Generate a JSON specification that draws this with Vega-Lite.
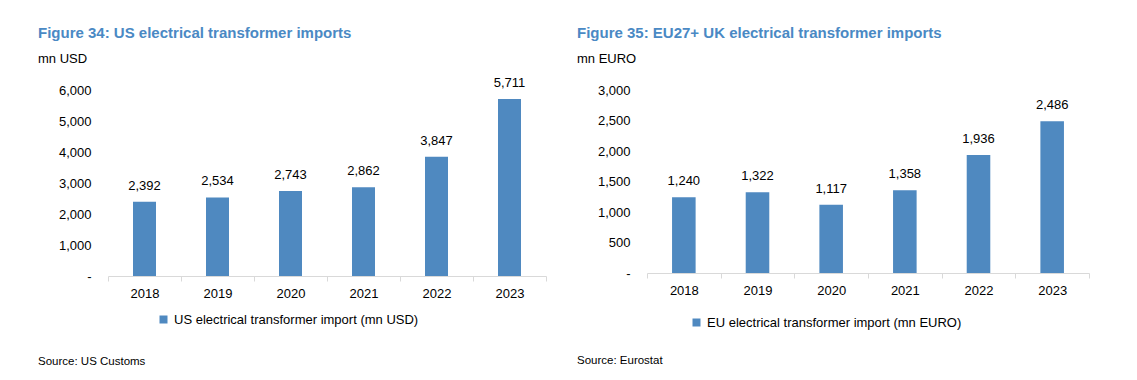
{
  "$schema": "https://vega.github.io/schema/vega-lite/v6.json",
  "padding": {"left": 38, "top": 25, "right": 5, "bottom": 5},
  "spacing": 30,
  "datasets": {
    "us": [
      {"year": "2018", "value": 2392, "series": "US electrical transformer import (mn USD)"},
      {"year": "2019", "value": 2534, "series": "US electrical transformer import (mn USD)"},
      {"year": "2020", "value": 2743, "series": "US electrical transformer import (mn USD)"},
      {"year": "2021", "value": 2862, "series": "US electrical transformer import (mn USD)"},
      {"year": "2022", "value": 3847, "series": "US electrical transformer import (mn USD)"},
      {"year": "2023", "value": 5711, "series": "US electrical transformer import (mn USD)"}
    ],
    "eu": [
      {"year": "2018", "value": 1240, "series": "EU electrical transformer import (mn EURO)"},
      {"year": "2019", "value": 1322, "series": "EU electrical transformer import (mn EURO)"},
      {"year": "2020", "value": 1117, "series": "EU electrical transformer import (mn EURO)"},
      {"year": "2021", "value": 1358, "series": "EU electrical transformer import (mn EURO)"},
      {"year": "2022", "value": 1936, "series": "EU electrical transformer import (mn EURO)"},
      {"year": "2023", "value": 2486, "series": "EU electrical transformer import (mn EURO)"}
    ]
  },
  "config": {
    "font": "Liberation Sans",
    "view": {"stroke": null},
    "axis": {"labelFont": "Liberation Sans", "labelFontSize": 13, "labelColor": "#000000", "grid": false, "title": null},
    "axisX": {"domainColor": "#d9d9d9", "tickColor": "#d9d9d9", "tickSize": 5, "tickBand": "extent", "labelAngle": 0, "labelPadding": 6},
    "axisY": {"domain": false, "ticks": false, "labelPadding": 17},
    "legend": {"labelFont": "Liberation Sans", "labelFontSize": 13, "labelColor": "#000000", "labelLimit": 0, "symbolType": "square", "symbolSize": 64, "symbolStrokeWidth": 0, "labelOffset": 4, "padding": 0, "title": null},
    "title": {"font": "Liberation Sans", "fontSize": 15, "fontWeight": "bold", "color": "#4a89c4", "anchor": "start", "frame": "group", "subtitleFont": "Liberation Sans", "subtitleFontSize": 13, "subtitleColor": "#000000", "subtitlePadding": 12}
  },
  "hconcat": [
    {
      "title": {"text": "Source: US Customs", "orient": "bottom", "anchor": "start", "dx": -70, "font": "Liberation Sans", "fontSize": 11.5, "fontWeight": "normal", "color": "#000000", "offset": 29},
      "vconcat": [
        {
          "title": {"text": "Figure 34: US electrical transformer imports", "subtitle": "mn USD", "dx": -70, "offset": 11},
          "width": 438,
          "height": 186,
          "data": {"name": "us"},
          "encoding": {
            "x": {"field": "year", "type": "nominal", "scale": {"paddingInner": 0, "paddingOuter": 0}},
            "y": {"field": "value", "type": "quantitative", "scale": {"domain": [0, 6000]}, "axis": {"values": [0, 1000, 2000, 3000, 4000, 5000, 6000], "labelExpr": "datum.value === 0 ? '-' : format(datum.value, ',')"}}
          },
          "layer": [
            {
              "mark": {"type": "bar", "width": {"band": 0.315}},
              "encoding": {
                "color": {"field": "series", "type": "nominal", "scale": {"range": ["#4f89c0"]}, "legend": {"orient": "none", "legendX": 49, "legendY": 223}}
              }
            },
            {
              "mark": {"type": "text", "baseline": "bottom", "dy": -9, "font": "Liberation Sans", "fontSize": 13, "color": "#000000"},
              "encoding": {"text": {"field": "value", "type": "quantitative", "format": ","}}
            }
          ]
        }
      ]
    },
    {
      "title": {"text": "Source: Eurostat", "orient": "bottom", "anchor": "start", "dx": -70, "font": "Liberation Sans", "fontSize": 11.5, "fontWeight": "normal", "color": "#000000", "offset": 25},
      "vconcat": [
        {
          "title": {"text": "Figure 35: EU27+ UK electrical transformer imports", "subtitle": "mn EURO", "dx": -70, "offset": 18},
          "width": 442,
          "height": 183,
          "data": {"name": "eu"},
          "encoding": {
            "x": {"field": "year", "type": "nominal", "scale": {"paddingInner": 0, "paddingOuter": 0}},
            "y": {"field": "value", "type": "quantitative", "scale": {"domain": [0, 3000]}, "axis": {"values": [0, 500, 1000, 1500, 2000, 2500, 3000], "labelExpr": "datum.value === 0 ? '-' : format(datum.value, ',')"}}
          },
          "layer": [
            {
              "mark": {"type": "bar", "width": {"band": 0.32}},
              "encoding": {
                "color": {"field": "series", "type": "nominal", "scale": {"range": ["#4f89c0"]}, "legend": {"orient": "none", "legendX": 43, "legendY": 226}}
              }
            },
            {
              "mark": {"type": "text", "baseline": "bottom", "dy": -9, "font": "Liberation Sans", "fontSize": 13, "color": "#000000"},
              "encoding": {"text": {"field": "value", "type": "quantitative", "format": ","}}
            }
          ]
        }
      ]
    }
  ],
  "resolve": {"scale": {"color": "independent"}}
}
